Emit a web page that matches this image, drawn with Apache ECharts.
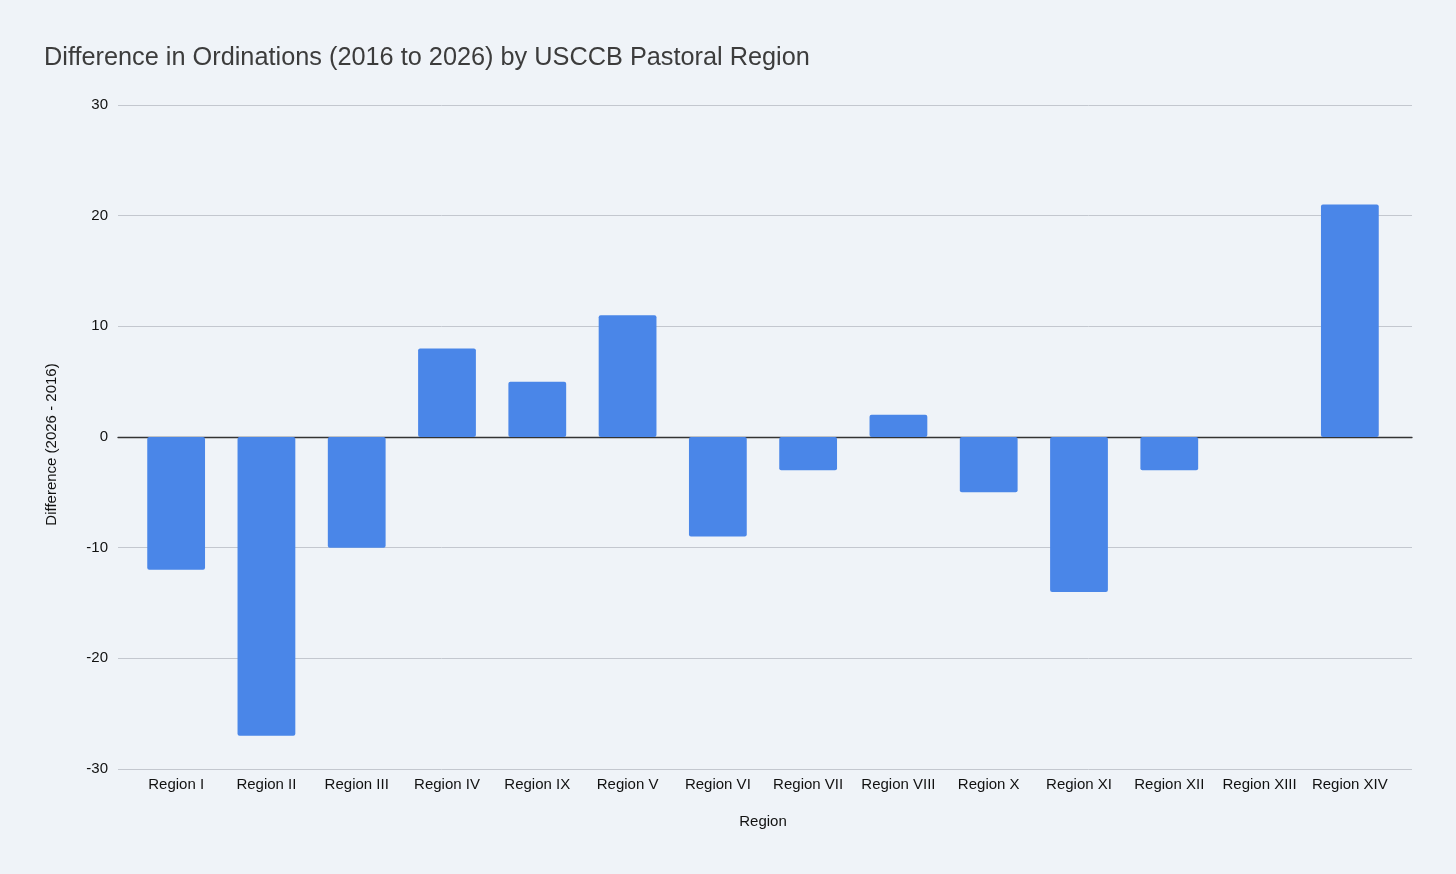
<!DOCTYPE html>
<html>
<head>
<meta charset="utf-8">
<script src="https://cdn.jsdelivr.net/npm/echarts@6/dist/echarts.min.js"></script>
<style>
html,body{margin:0;padding:0;background:#eff3f8;}
#chart{width:1456px;height:874px;}
</style>
</head>
<body>
<div id="chart"></div>
<script>
const categories = ['Region I','Region II','Region III','Region IV','Region IX','Region V','Region VI','Region VII','Region VIII','Region X','Region XI','Region XII','Region XIII','Region XIV'];
const differences = [-12, -27, -10, 8, 5, 11, -9, -3, 2, -5, -14, -3, 0, 21];
const yMin = -30, yMax = 30, yStep = 10;

const font = 'Arial, "Liberation Sans", sans-serif';
const chart = echarts.init(document.getElementById('chart'));
chart.setOption({
  backgroundColor: '#eff3f8',
  animation: false,
  title: {
    text: 'Difference in Ordinations (2016 to 2026) by USCCB Pastoral Region',
    left: 39, top: 41,
    textStyle: {fontFamily: font, fontSize: 25.3, fontWeight: 'normal', color: '#3c3c3c'}
  },
  grid: [
    {left: 118, right: 44, top: 105, bottom: 105},
    {left: 131, right: 61, top: 105, bottom: 105}
  ],
  xAxis: [
    {gridIndex: 0, type: 'value', min: 0, max: 1, show: true,
     axisLine: {show: true, onZero: true, lineStyle: {color: '#333', width: 1.3}},
     axisTick: {show: false}, axisLabel: {show: false}, splitLine: {show: false}},
    {gridIndex: 1, type: 'category', data: categories,
     axisLine: {show: false, onZero: false}, axisTick: {show: false},
     axisLabel: {interval: 0, margin: 8, fontFamily: font, fontSize: 15, color: '#111'},
     name: 'Region', nameLocation: 'middle', nameGap: 45,
     nameTextStyle: {fontFamily: font, fontSize: 15, color: '#111'}}
  ],
  yAxis: [
    {gridIndex: 0, type: 'value', min: yMin, max: yMax, interval: yStep,
     axisLine: {show: false}, axisTick: {show: false},
     axisLabel: {margin: 10, padding: [3, 0, 0, 0], fontFamily: font, fontSize: 15, color: '#111'},
     splitLine: {lineStyle: {color: '#c3c7cf', width: 1}},
     name: 'Difference (2026 - 2016)', nameLocation: 'middle', nameGap: 59,
     nameTextStyle: {fontFamily: font, fontSize: 15, color: '#111', padding: [0, 15, 0, 0]}},
    {gridIndex: 1, type: 'value', min: yMin, max: yMax, interval: yStep, show: false,
     splitLine: {show: false}}
  ],
  series: [{
    type: 'bar',
    xAxisIndex: 1, yAxisIndex: 1,
    data: differences,
    barWidth: '64%',
    itemStyle: {color: '#4a86e8', borderRadius: 2}
  }]
});
</script>
</body>
</html>
